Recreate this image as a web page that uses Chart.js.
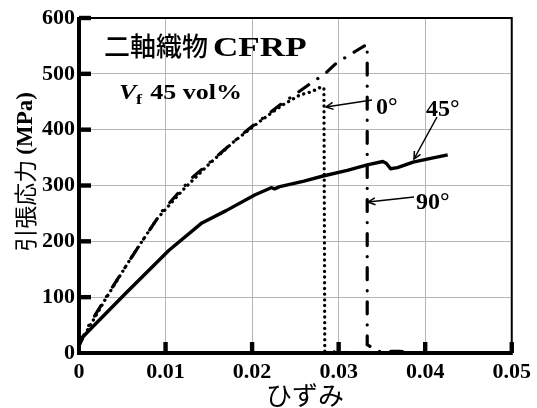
<!DOCTYPE html>
<html>
<head>
<meta charset="utf-8">
<script src="https://cdn.jsdelivr.net/npm/chart.js@4"></script>
<style>
  html, body { margin: 0; padding: 0; background: #fff; }
  #wrap { width: 537px; height: 408px; position: relative; }
</style>
</head>
<body>
<div id="wrap"><canvas id="chart"></canvas></div>
<script>
// strain / stress
const strain0 = [0, 0.003, 0.006, 0.009, 0.012, 0.015, 0.018, 0.021, 0.0235, 0.0255, 0.0269, 0.0279, 0.0283, 0.0284, 0.0295, 0.031];
const stress0 = [15, 95, 170, 240, 292, 338, 380, 416, 444, 462, 468, 476, 475, 0, 2, 1];

const strain45 = [0, 0.0054, 0.0104, 0.0142, 0.017, 0.0203, 0.0222, 0.0226, 0.0232, 0.026, 0.0282, 0.031, 0.0333, 0.0351, 0.0355, 0.036, 0.0368, 0.0386, 0.0405, 0.0426];
const stress45 = [22, 107, 184, 233, 255, 283, 296, 294, 298, 308, 317, 327, 337, 343, 340, 330, 332, 342, 348, 355];

const strain90 = [0, 0.0008, 0.0034, 0.0066, 0.0097, 0.013, 0.0165, 0.0195, 0.0232, 0.0265, 0.0284, 0.0298, 0.0319, 0.0333, 0.0333, 0.0345, 0.037, 0.038];
const stress90 = [12, 41, 107, 184, 256, 313, 360, 400, 444, 480, 500, 520, 540, 553, 15, 3, 3, 2];

const xTicks = [0, 0.01, 0.02, 0.03, 0.04, 0.05];
const yTicks = [0, 100, 200, 300, 400, 500, 600];

const serif = "'Liberation Serif', 'Times New Roman', serif";
const cjk = "'Noto Sans CJK JP', sans-serif";

function toPoints(xs, ys) {
  return xs.map((x, i) => ({ x, y: ys[i] }));
}

const deco = {
  id: 'deco',
  afterDraw(chart) {
    const c = chart.ctx;
    const a = chart.chartArea;
    const sx = chart.scales.x;
    const sy = chart.scales.y;
    c.save();
    c.fillStyle = '#000';
    c.strokeStyle = '#000';

    // inward ticks
    xTicks.slice(1).forEach(v => {
      const px = sx.getPixelForValue(v);
      c.fillRect(px - 2.2, a.bottom - 11, 4.4, 11);
    });
    yTicks.slice(1).forEach(v => {
      const py = sy.getPixelForValue(v);
      c.fillRect(a.left, py - 2.2, 12, 4.4);
    });

    // frame
    c.lineWidth = 2;
    c.beginPath();
    c.moveTo(a.left, a.top);
    c.lineTo(a.right, a.top);
    c.lineTo(a.right, a.bottom);
    c.stroke();
    c.lineWidth = 4;
    c.beginPath();
    c.moveTo(a.left, a.top - 1);
    c.lineTo(a.left, a.bottom);
    c.lineTo(a.right + 1, a.bottom);
    c.stroke();

    // title inside plot
    c.textBaseline = 'alphabetic';
    c.textAlign = 'left';
    c.font = '500 26px ' + cjk;
    c.fillText('二軸織物', 104, 56);
    c.save();
    c.translate(213, 56);
    c.scale(1.3, 1);
    c.font = 'bold 27px ' + serif;
    c.fillText('CFRP', 0, 0);
    c.restore();

    // Vf 45 vol%
    c.save();
    c.translate(119, 99);
    c.scale(1.3, 1);
    c.font = 'italic bold 20px ' + serif;
    c.fillText('V', 0, 0);
    c.font = 'bold 14px ' + serif;
    c.fillText('f', 13, 5);
    c.font = 'bold 20px ' + serif;
    c.fillText('45 vol%', 24, 0);
    c.restore();

    // curve labels
    c.font = 'bold 24px ' + serif;
    c.fillText('0°', 376, 114);
    c.fillText('45°', 426, 116);
    c.fillText('90°', 416, 209);

    // arrows
    function arrow(x1, y1, x2, y2) {
      c.lineWidth = 1.5;
      c.beginPath();
      c.moveTo(x1, y1);
      c.lineTo(x2, y2);
      c.stroke();
      const ang = Math.atan2(y2 - y1, x2 - x1);
      const L = 8;
      c.beginPath();
      c.moveTo(x2 - L * Math.cos(ang - 0.45), y2 - L * Math.sin(ang - 0.45));
      c.lineTo(x2, y2);
      c.lineTo(x2 - L * Math.cos(ang + 0.45), y2 - L * Math.sin(ang + 0.45));
      c.stroke();
    }
    arrow(372, 100, 326, 107);
    arrow(437, 117, 414, 159);
    arrow(414, 197, 368, 202);

    // axis titles
    c.textAlign = 'center';
    c.font = '26px ' + cjk;
    c.fillText('ひずみ', 305, 405);

    c.save();
    c.translate(25, 172);
    c.rotate(-Math.PI / 2);
    c.textAlign = 'left';
    c.textBaseline = 'middle';
    const p1 = '引張応力 ';
    const p2 = '(MPa)';
    c.font = '23px ' + cjk;
    const w1 = c.measureText(p1).width;
    c.font = 'bold 23px ' + serif;
    const w2 = c.measureText(p2).width;
    const start = -(w1 + w2) / 2;
    c.font = '23px ' + cjk;
    c.fillText(p1, start, 0);
    c.font = 'bold 23px ' + serif;
    c.fillText(p2, start + w1, 1);
    c.restore();

    c.restore();
  }
};

const ctx = document.getElementById('chart').getContext('2d');
new Chart(ctx, {
  type: 'scatter',
  data: {
    datasets: [
      {
        label: '0°',
        data: toPoints(strain0, stress0),
        showLine: true,
        borderColor: '#000',
        borderWidth: 3.3,
        borderCapStyle: 'round',
        borderDash: [0.1, 5.6],
        pointRadius: 0,
        tension: 0
      },
      {
        label: '45°',
        data: toPoints(strain45, stress45),
        showLine: true,
        borderColor: '#000',
        borderWidth: 3.4,
        borderJoinStyle: 'round',
        pointRadius: 0,
        tension: 0
      },
      {
        label: '90°',
        data: toPoints(strain90, stress90),
        showLine: true,
        borderColor: '#000',
        borderWidth: 3.2,
        borderCapStyle: 'round',
        borderDash: [12, 11, 0.1, 11],
        pointRadius: 0,
        tension: 0
      }
    ]
  },
  options: {
    responsive: true,
    maintainAspectRatio: false,
    animation: false,
    layout: { padding: { top: 18, right: 25, left: 0, bottom: 0 } },
    plugins: {
      legend: { display: false },
      tooltip: { enabled: false }
    },
    scales: {
      x: {
        type: 'linear',
        min: 0,
        max: 0.05,
        afterFit: s => { s.height = 55; },
        afterBuildTicks: s => { s.ticks = xTicks.map(v => ({ value: v })); },
        grid: { color: '#b4b4b4', lineWidth: 1, drawTicks: false },
        border: { display: false },
        ticks: {
          color: '#000',
          padding: 6,
          font: { family: serif, weight: 'bold', size: 22 },
          callback: v => String(v)
        }
      },
      y: {
        min: 0,
        max: 600,
        afterFit: s => { s.width = 79; },
        afterBuildTicks: s => { s.ticks = yTicks.map(v => ({ value: v })); },
        grid: { color: '#b4b4b4', lineWidth: 1, drawTicks: false },
        border: { display: false },
        ticks: {
          color: '#000',
          padding: 4,
          font: { family: serif, weight: 'bold', size: 22 },
          callback: v => String(v)
        }
      }
    }
  },
  plugins: [deco]
});
</script>
</body>
</html>
